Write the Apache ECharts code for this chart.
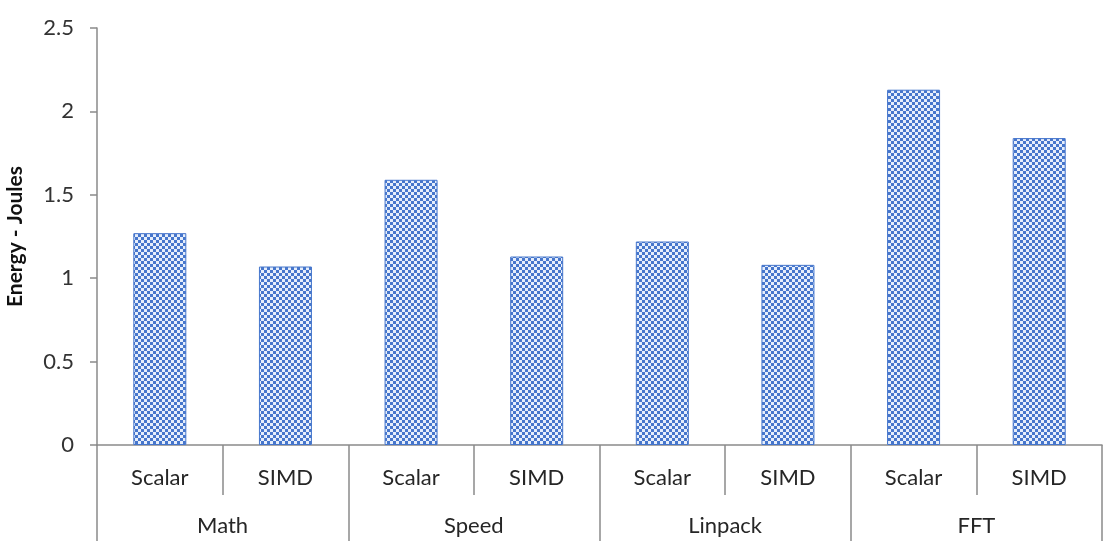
<!DOCTYPE html>
<html>
<head>
<meta charset="utf-8">
<script src="https://cdn.jsdelivr.net/npm/echarts@6/dist/echarts.min.js"></script>
<style>
html,body{margin:0;padding:0;background:#fff;}
#chart{width:1106px;height:541px;}
</style>
</head>
<body>
<div id="chart"></div>
<script>
// Benchmarks and the two variants measured for each
const groups = ['Math', 'Speed', 'Linpack', 'FFT'];
const variants = ['Scalar', 'SIMD'];
// Energy per run (Joules), in order Scalar, SIMD for each benchmark
const energy = [1.27, 1.07, 1.59, 1.13, 1.22, 1.08, 2.13, 1.84];
const yTicks = [0, 0.5, 1, 1.5, 2, 2.5];

const categories = [];
groups.forEach(g => variants.forEach(v => categories.push(v)));

// Blue checkerboard fill for the bars
function checkerPattern() {
  const c = document.createElement('canvas');
  const s = 3;
  c.width = s * 2; c.height = s * 2;
  const ctx = c.getContext('2d');
  ctx.fillStyle = '#e6eefb';
  ctx.fillRect(0, 0, s * 2, s * 2);
  ctx.fillStyle = '#4676cc';
  ctx.fillRect(0, 0, s, s);
  ctx.fillRect(s, s, s, s);
  return c;
}

const font = 'Lato, Arial, sans-serif';
const axisGrey = '#8a8a8a';
const chart = echarts.init(document.getElementById('chart'));
chart.setOption({
  animation: false,
  grid: { left: 97, right: 4, top: 28, bottom: 96, outerBoundsMode: 'none', containLabel: false },
  xAxis: [
    {
      type: 'category',
      data: categories,
      axisLine: { lineStyle: { color: axisGrey, width: 1.5 } },
      axisTick: { show: true, alignWithLabel: false, length: 50, lineStyle: { color: axisGrey, width: 1.5 } },
      axisLabel: { color: '#262626', fontSize: 22, fontFamily: font, margin: 22 }
    },
    {
      type: 'category',
      data: groups,
      position: 'bottom',
      axisLine: { show: false },
      axisTick: { show: true, alignWithLabel: false, length: 100, lineStyle: { color: axisGrey, width: 1.5 } },
      axisLabel: { color: '#262626', fontSize: 22, fontFamily: font, margin: 70 }
    }
  ],
  yAxis: {
    type: 'value',
    min: yTicks[0],
    max: yTicks[yTicks.length - 1],
    interval: 0.5,
    name: 'Energy - Joules',
    nameLocation: 'middle',
    nameGap: 71,
    nameTextStyle: { fontSize: 21, fontWeight: 'bold', color: '#111', fontFamily: font },
    axisLine: { show: true, lineStyle: { color: axisGrey, width: 1.5 } },
    axisTick: { show: true, length: 7, lineStyle: { color: axisGrey, width: 1.5 } },
    splitLine: { show: false },
    axisLabel: { color: '#333', fontSize: 22, fontFamily: font, margin: 23 }
  },
  series: [{
    type: 'bar',
    data: energy,
    xAxisIndex: 0,
    barWidth: 53,
    itemStyle: {
      color: { image: checkerPattern(), repeat: 'repeat' },
      borderColor: '#4676cc',
      borderWidth: 1
    }
  }]
});
</script>
</body>
</html>
